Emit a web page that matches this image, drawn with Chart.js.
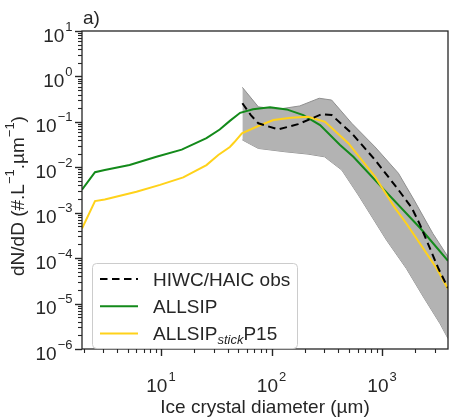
<!DOCTYPE html>
<html>
<head>
<meta charset="utf-8">
<script src="https://cdn.jsdelivr.net/npm/chart.js@4.4.1/dist/chart.umd.min.js"></script>
<style>
  body { margin: 0; background: #fff; }
</style>
</head>
<body>
<canvas id="psd" width="450" height="419"></canvas>
<script>
// series names (legend order)
var seriesNames = ['HIWC/HAIC obs', 'ALLSIP', 'ALLSIP_{stick}P15'];

// HIWC/HAIC observations, median (dashed)
var obsD = [54.5, 65, 76, 115, 174, 285, 350, 532, 865, 1406, 1862, 2208, 3236, 3950];
var obsN = [0.257, 0.141, 0.093, 0.068, 0.089, 0.148, 0.141, 0.056, 0.0145, 3.2e-3, 1.26e-3, 5.4e-4, 5.9e-5, 2.2e-5];

// observation spread (grey band)
var bandHiD = [54.5, 76, 115, 180, 270, 350, 532, 865, 1406, 1950, 2880, 3950];
var bandHiN = [0.575, 0.214, 0.19, 0.224, 0.331, 0.302, 0.093, 0.028, 7.4e-3, 1.9e-3, 3.5e-4, 1.07e-4];
var bandLoD = [54.5, 76, 132, 214, 302, 432, 610, 1096, 1660, 2366, 3350, 3950];
var bandLoN = [0.04, 0.026, 0.022, 0.0195, 0.017, 8.7e-3, 2.45e-3, 2.5e-4, 5.9e-5, 1.4e-5, 3.6e-6, 1.7e-6];

// ALLSIP
var allsipD = [1.93, 2.53, 3.1, 5.2, 9.1, 15.4, 25.8, 34, 42, 52, 68, 97, 137, 194, 275, 417, 550, 1020, 2210, 3950];
var allsipN = [3.2e-3, 7.8e-3, 8.7e-3, 1.12e-2, 1.7e-2, 2.45e-2, 4.4e-2, 6.8e-2, 0.105, 0.158, 0.19, 0.209, 0.188, 0.141, 0.085, 0.031, 0.017, 3.4e-3, 4.6e-4, 8.7e-5];

// ALLSIP stick P15
var stickD = [1.93, 2.53, 3.1, 6.0, 9.8, 15.9, 25.8, 33, 42, 46, 54, 75, 104, 150, 214, 305, 495, 865, 1312, 1660, 3125, 3950];
var stickN = [4.5e-4, 1.8e-3, 1.95e-3, 2.9e-3, 4.1e-3, 6.0e-3, 1.12e-2, 1.86e-2, 2.8e-2, 3.55e-2, 0.056, 0.08, 0.11, 0.123, 0.129, 0.1, 0.034, 6.2e-3, 1.26e-3, 5.8e-4, 5.9e-5, 2.1e-5];

// axis ticks
var xMajor = [10, 100, 1000];
var xMinor = [2, 3, 4, 5, 6, 7, 8, 9, 20, 30, 40, 50, 60, 70, 80, 90, 200, 300, 400, 500, 600, 700, 800, 900, 2000, 3000];
var yExps = [-6, -5, -4, -3, -2, -1, 0, 1];
var yMinorMant = [2, 3, 4, 5, 6, 7, 8, 9];

var ink = '#262626';
var font = 'Liberation Sans, Arial, sans-serif';

function pts(xs, ys) {
    return xs.map(function (x, i) { return {x: x, y: ys[i]}; });
}

function drawPow(ctx, exp, x, base, align) {
    ctx.font = '19px ' + font;
    var wb = ctx.measureText('10').width;
    ctx.font = '13px ' + font;
    var we = ctx.measureText(exp).width;
    var w = wb + 1 + we;
    var x0 = align === 'right' ? x - w : x - w / 2;
    ctx.textAlign = 'left';
    ctx.textBaseline = 'alphabetic';
    ctx.font = '19px ' + font;
    ctx.fillText('10', x0, base);
    ctx.font = '13px ' + font;
    ctx.fillText(exp, x0 + wb + 1, base - 11);
}

// draw text pieces, '_{...}' becomes an italic subscript
function drawParts(ctx, label, x, y) {
    var parts = label.split(/_\{|\}/);
    parts.forEach(function (p, i) {
        if (i % 2 === 1) {
            ctx.font = 'italic 13px ' + font;
            ctx.fillText(p, x, y + 4);
        } else {
            ctx.font = '19px ' + font;
            ctx.fillText(p, x, y);
        }
        x += ctx.measureText(p).width;
    });
}

function tickLine(ctx, x1, y1, x2, y2, w) {
    ctx.lineWidth = w;
    ctx.beginPath();
    ctx.moveTo(x1, y1);
    ctx.lineTo(x2, y2);
    ctx.stroke();
}

var decor = {
    id: 'decor',
    afterDraw: function (chart) {
        var ctx = chart.ctx, a = chart.chartArea;
        var xs = chart.scales.x, ys = chart.scales.y;
        ctx.save();
        ctx.strokeStyle = ink;

        // tick marks, placed by the scales
        xMajor.forEach(function (v) {
            var px = Math.round(xs.getPixelForValue(v)) + 0.5;
            tickLine(ctx, px, a.bottom, px, a.bottom + 7, 1.4);
        });
        xMinor.forEach(function (v) {
            var px = Math.round(xs.getPixelForValue(v)) + 0.5;
            tickLine(ctx, px, a.bottom, px, a.bottom + 4, 1.1);
        });
        yExps.forEach(function (e) {
            var py = Math.round(ys.getPixelForValue(Math.pow(10, e))) + 0.5;
            tickLine(ctx, a.left - 7, py, a.left, py, 1.4);
            if (e < 1) {
                yMinorMant.forEach(function (m) {
                    var q = Math.round(ys.getPixelForValue(m * Math.pow(10, e))) + 0.5;
                    tickLine(ctx, a.left - 4, q, a.left, q, 1.1);
                });
            }
        });

        ctx.lineWidth = 1.3;
        ctx.strokeRect(a.left, a.top, a.right - a.left, a.bottom - a.top);

        ctx.fillStyle = ink;
        yExps.forEach(function (e) {
            var py = ys.getPixelForValue(Math.pow(10, e));
            drawPow(ctx, String(e).replace('-', '\u2212'), a.left - 9.5, py + 10.5, 'right');
        });
        xMajor.forEach(function (v) {
            var px = xs.getPixelForValue(v);
            drawPow(ctx, String(Math.round(Math.log10(v))), px, a.bottom + 42.5, 'center');
        });

        // panel letter
        ctx.font = '19px ' + font;
        ctx.textAlign = 'left';
        ctx.fillText('a)', a.left + 1, 23.5);

        // y title with superscripts
        ctx.save();
        ctx.translate(24, 196);
        ctx.rotate(-Math.PI / 2);
        var segs = [['dN/dD (#.L', 0], ['\u22121', 1], ['.\u00b5m', 0], ['\u22121', 1], [')', 0]];
        var tw = 0;
        segs.forEach(function (s) {
            ctx.font = (s[1] ? '13px ' : '19px ') + font;
            tw += ctx.measureText(s[0]).width;
        });
        var cx = -tw / 2;
        segs.forEach(function (s) {
            ctx.font = (s[1] ? '13px ' : '19px ') + font;
            ctx.fillText(s[0], cx, s[1] ? -10 : 0);
            cx += ctx.measureText(s[0]).width;
        });
        ctx.restore();

        // legend
        var lx = 92, ly = 263, lw = 205, lh = 85;
        ctx.fillStyle = 'rgba(255,255,255,0.8)';
        ctx.strokeStyle = '#cccccc';
        ctx.lineWidth = 1;
        ctx.beginPath();
        ctx.roundRect(lx + 0.5, ly + 0.5, lw, lh, 4);
        ctx.fill();
        ctx.stroke();
        var dsIdx = [0, 2, 1];
        dsIdx.forEach(function (di, i) {
            var ds = chart.data.datasets[di];
            var ry = 279 + i * 27.2;
            ctx.strokeStyle = ds.borderColor;
            ctx.lineWidth = ds.borderWidth;
            ctx.setLineDash(ds.borderDash || []);
            ctx.beginPath();
            ctx.moveTo(100, ry);
            ctx.lineTo(138, ry);
            ctx.stroke();
            ctx.setLineDash([]);
            ctx.fillStyle = ink;
            ctx.textBaseline = 'alphabetic';
            drawParts(ctx, seriesNames[i], 153, ry + 6.8);
        });
        ctx.restore();
    }
};

var ctx = document.getElementById('psd').getContext('2d');
var chart = new Chart(ctx, {
    type: 'line',
    data: {
        datasets: [{
            label: seriesNames[0],
            data: pts(obsD, obsN),
            borderColor: '#000000',
            borderWidth: 2,
            borderDash: [7.5, 4.5],
            fill: false
        }, {
            label: seriesNames[2],
            data: pts(stickD, stickN),
            borderColor: '#ffd21a',
            borderWidth: 2,
            fill: false
        }, {
            label: seriesNames[1],
            data: pts(allsipD, allsipN),
            borderColor: '#138a1a',
            borderWidth: 2,
            fill: false
        }, {
            label: 'obs max',
            data: pts(bandHiD, bandHiN),
            borderColor: '#8f8f8f',
            borderWidth: 1,
            backgroundColor: '#b3b3b3',
            fill: '+1'
        }, {
            label: 'obs min',
            data: pts(bandLoD, bandLoN),
            borderColor: '#8f8f8f',
            borderWidth: 1,
            fill: false
        }]
    },
    options: {
        responsive: false,
        animation: false,
        devicePixelRatio: 1,
        elements: {
            point: {radius: 0},
            line: {tension: 0}
        },
        layout: {padding: {left: 0, right: 2, top: 31, bottom: 0}},
        scales: {
            x: {
                type: 'logarithmic',
                position: 'bottom',
                min: 1.93,
                max: 3950,
                afterFit: function (s) { s.height = 70; },
                ticks: {display: false},
                grid: {display: false},
                border: {display: false},
                title: {
                    display: true,
                    text: 'Ice crystal diameter (\u00b5m)',
                    color: ink,
                    font: {family: font, size: 19, lineHeight: 1.2},
                    padding: {top: 0, bottom: 0}
                }
            },
            y: {
                type: 'logarithmic',
                position: 'left',
                min: 1e-6,
                max: 10,
                afterFit: function (s) { s.width = 82; },
                ticks: {display: false},
                grid: {display: false},
                border: {display: false}
            }
        },
        plugins: {
            legend: {display: false},
            tooltip: {enabled: false}
        }
    },
    plugins: [decor]
});
</script>
</body>
</html>
